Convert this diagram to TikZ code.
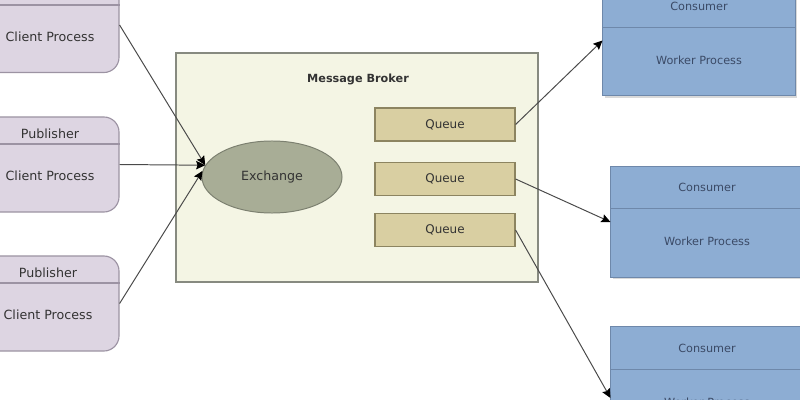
\documentclass[tikz,border=0pt]{standalone}
\usepackage{fontspec}
\setmainfont{DejaVu Sans}
\usetikzlibrary{arrows.meta,shapes.geometric,shadows}

\definecolor{pubfill}{HTML}{DDD5E2}
\definecolor{publine}{HTML}{9C93A3}
\definecolor{brokerfill}{HTML}{F4F5E4}
\definecolor{brokerline}{HTML}{878A80}
\definecolor{exfill}{HTML}{A8AD96}
\definecolor{exline}{HTML}{7C8070}
\definecolor{qfill}{HTML}{D9CFA2}
\definecolor{qline}{HTML}{8C8460}
\definecolor{confill}{HTML}{8DADD3}
\definecolor{conline}{HTML}{6E88AA}
\definecolor{context}{HTML}{3B4A66}
\definecolor{textgray}{HTML}{333333}
\definecolor{arrowgray}{HTML}{4A4A4A}

\begin{document}
\begin{tikzpicture}[x=0.025cm, y=-0.025cm,
    pub/.style = {draw=publine, fill=pubfill, line width=0.8pt, rounded corners=0.38cm,
                  minimum width=3.475cm, minimum height=2.375cm, inner sep=0pt},
    pubtext/.style = {text=textgray, font=\fontsize{9}{10}\selectfont},
    broker/.style = {draw=brokerline, fill=brokerfill, line width=0.9pt,
                     minimum width=9.05cm, minimum height=5.725cm, inner sep=0pt},
    exch/.style = {draw=exline, fill=exfill, ellipse, line width=0.7pt,
                   minimum width=3.5cm, minimum height=1.8cm, inner sep=0pt,
                   text=textgray, font=\fontsize{9}{10}\selectfont},
    queue/.style = {draw=qline, fill=qfill, line width=0.8pt,
                    minimum width=3.5cm, minimum height=0.825cm, inner sep=0pt,
                    text=textgray, font=\fontsize{8.5}{10}\selectfont},
    con/.style = {draw=conline, fill=confill, line width=0.7pt,
                  minimum width=4.8cm, minimum height=2.75cm, inner sep=0pt,
                  drop shadow={shadow xshift=0.04cm, shadow yshift=-0.05cm, opacity=0.3}},
    context/.style = {text=context, font=\fontsize{8}{10}\selectfont},
    conn/.style = {draw=arrowgray, line width=0.7pt,
                   -{Stealth[length=6.5pt,width=6pt,inset=1pt,black]}}]

    \useasboundingbox (0,0) rectangle (800,400);
    \clip (0,0) rectangle (800,400);

    % publishers
    \node[pub] (pub1) at (49.5,25) {};
    \node[pub] (pub2) at (49.5,164.5) {};
    \node[pub] (pub3) at (49.5,303.5) {};
    \draw[publine, line width=0.8pt] (pub1.west |- 0,5) -- (pub1.east |- 0,5);
    \draw[publine, line width=0.8pt] (pub2.west |- 0,144) -- (pub2.east |- 0,144);
    \draw[publine, line width=0.8pt] (pub3.west |- 0,283) -- (pub3.east |- 0,283);
    \node[pubtext] (cp1) at (50,37) {Client Process};
    \node[pubtext] (pt2) at (50,134) {Publisher};
    \node[pubtext] (cp2) at (50,176) {Client Process};
    \node[pubtext] (pt3) at (48,273) {Publisher};
    \node[pubtext] (cp3) at (48,315) {Client Process};

    % broker
    \node[broker] (broker) at (357,167.5) {};
    \node[font=\fontsize{8}{10}\selectfont\bfseries, text=textgray] (title) at (358,79) {Message Broker};
    \node[exch] (ex) at (272,177) {Exchange};
    \node[queue] (q1) at (445,124.5) {Queue};
    \node[queue] (q2) at (445,179) {Queue};
    \node[queue] (q3) at (445,230) {Queue};

    % consumers
    \node[con] (con1) at (699,40.5) {};
    \node[con] (con2) at (707,222) {};
    \node[con] (con3) at (707,382) {};
    \draw[conline, line width=0.7pt] (con1.west |- 0,27) -- (con1.east |- 0,27);
    \draw[conline, line width=0.7pt] (con2.west |- 0,208) -- (con2.east |- 0,208);
    \draw[conline, line width=0.7pt] (con3.west |- 0,369) -- (con3.east |- 0,369);
    \node[context] (ct1) at (699,6) {Consumer};
    \node[context] (wp1) at (699,60) {Worker Process};
    \node[context] (ct2) at (707,187) {Consumer};
    \node[context] (wp2) at (707,241) {Worker Process};
    \node[context] (ct3) at (707,348) {Consumer};
    \node[context] (wp3) at (707,402) {Worker Process};

    \path
    (pub1.east) edge[conn] (ex.170)
    (pub2.east) edge[conn] (ex.170)
    (pub3.east) edge[conn] (ex.175)

    (q1.east) edge[conn] (con1.west)
    (q2.east) edge[conn] (con2.west)
    (q3.east) edge[conn] ([yshift=-0.4cm]con3.west)
    ;
\end{tikzpicture}
\end{document}
